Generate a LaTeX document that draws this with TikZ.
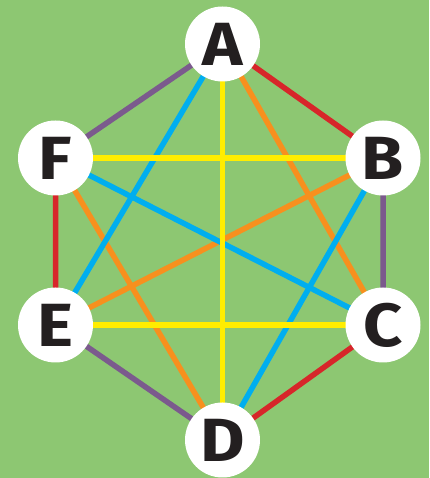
\documentclass[tikz,border=0pt]{standalone}
\usepackage{fontspec}
\setmainfont{Fira Sans}
\newfontfamily\vfont[FakeStretch=1.12]{Fira Sans}
\definecolor{bg}{HTML}{8DC772}
\definecolor{cred}{HTML}{D7262A}
\definecolor{cpur}{HTML}{7B5A8D}
\definecolor{cyel}{HTML}{FFED00}
\definecolor{cblu}{HTML}{00AEEF}
\definecolor{cora}{HTML}{F7901E}
\definecolor{ink}{HTML}{231F20}
\begin{document}
\begin{tikzpicture}[x=1pt,y=1pt,
  vtx/.style={circle,fill=white,minimum size=75pt,inner sep=0pt,text=ink,font=\vfont\fontsize{61}{61}\selectfont\bfseries},
  edge/.style={line width=5.5pt}]
\fill[bg] (0,0) rectangle (429,478);
\useasboundingbox (0,0) rectangle (429,478);
\coordinate (a) at (222.5,434);
\coordinate (b) at (383,320);
\coordinate (c) at (383,153);
\coordinate (d) at (222.5,38);
\coordinate (e) at (55.5,153);
\coordinate (f) at (55.5,320);
\draw[edge,cred] (a)--(b) (c)--(d) (e)--(f);
\draw[edge,cpur] (b)--(c) (d)--(e) (f)--(a);
\draw[edge,cora] (a)--(c) (b)--(e) (f)--(d);
\draw[edge,cblu] (a)--(e) (b)--(d) (f)--(c);
\draw[edge,cyel] (a)--(d) (f)--(b) (e)--(c);
\node[vtx] (A) at (a) {A};
\node[vtx] (B) at (b) {B};
\node[vtx] (C) at (c) {C};
\node[vtx] (D) at (d) {D};
\node[vtx] (E) at (e) {E};
\node[vtx] (F) at (f) {F};
\end{tikzpicture}
\end{document}
